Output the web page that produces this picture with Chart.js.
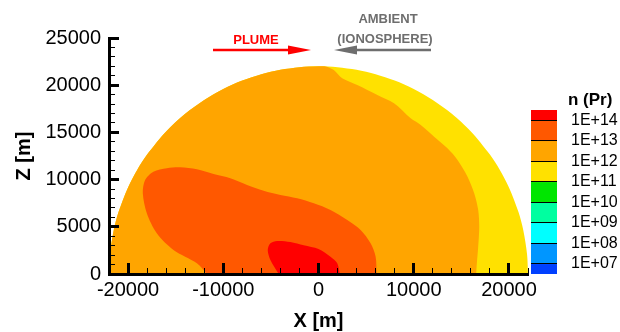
<!DOCTYPE html>
<html>
<head>
<meta charset="utf-8">
<script src="https://cdn.jsdelivr.net/npm/chart.js@4.4.1/dist/chart.umd.min.js"></script>
<style>
  html, body { margin: 0; padding: 0; background: #fff; }
  #wrap { position: relative; width: 620px; height: 332px; overflow: hidden;
          font-family: "Liberation Sans", Arial, Helvetica, sans-serif; }
  canvas { position: absolute; }
  #main { left: 0; top: 0; }
  #bar { left: 500px; top: 90px; }
  .note { position: absolute; font-weight: bold; font-size: 13px; line-height: 13px;
          white-space: nowrap; transform: translate(-50%, -50%); }
  #cbTitle { position: absolute; left: 568px; top: 90px; font-weight: bold;
             font-size: 17px; line-height: 20px; white-space: nowrap; color: #000; }
  svg { position: absolute; left: 0; top: 0; }
</style>
</head>
<body>
<div id="wrap">
  <canvas id="main" width="620" height="332"></canvas>
  <canvas id="bar" width="120" height="200"></canvas>
  <svg width="620" height="332">
    <line x1="213" y1="50" x2="292" y2="50" stroke="#ff0000" stroke-width="2.5"/>
    <polygon points="288,45.5 311,50 288,54.5" fill="#ff0000"/>
    <line x1="352" y1="50" x2="431" y2="50" stroke="#6e6e6e" stroke-width="2.5"/>
    <polygon points="334,50 357,45.5 357,54.5" fill="#6e6e6e"/>
  </svg>
  <div class="note" style="left:256px; top:39px; color:#ff0000;">PLUME</div>
  <div class="note" style="left:388px; top:18px; color:#6e6e6e;">AMBIENT</div>
  <div class="note" style="left:385px; top:38px; color:#6e6e6e;">(IONOSPHERE)</div>
  <div id="cbTitle">n (Pr)</div>
</div>
<script>
// ---- axis ticks (metres) ----
const xMajorTicks = [-20000, -10000, 0, 10000, 20000];
const xMinorTicks = [-22000, -18000, -16000, -14000, -12000, -8000, -6000, -4000, -2000,
                     2000, 4000, 6000, 8000, 12000, 14000, 16000, 18000, 22000];
const zMajorTicks = [0, 5000, 10000, 15000, 20000, 25000];
const zMinorTicks = [1000, 2000, 3000, 4000, 6000, 7000, 8000, 9000, 11000, 12000, 13000, 14000,
                     16000, 17000, 18000, 19000, 21000, 22000, 23000, 24000];

// ---- density bands, outlined as closed contours (x, z in metres) ----
// simulation domain: half disc, everything inside is at least 1E+11
const domainX = [-22000, -21900, -21500, -21000, -20000, -19000, -18000, -16000, -14000, -12000,
                 -10000, -8000, -6000, -4000, -2000, 0, 2000, 4000, 6000, 8000, 10000, 12000,
                 14000, 16000, 18000, 19000, 20000, 21000, 21500, 21900, 22000];
const domainZ = [0, 2100, 4660, 6560, 9170, 11090, 12650, 15100, 16970, 18440,
                 19600, 20490, 21170, 21630, 21910, 22000, 21910, 21630, 21170, 20490, 19600, 18440,
                 16970, 15100, 12650, 11090, 9170, 6560, 4660, 2100, 0];

// 1E+12 .. 1E+13
const band12X = [-22000, -21900, -21500, -21000, -20000, -19000, -18000, -16000, -14000, -12000,
                 -10000, -8000, -6000, -4000, -2000, 0, 740,
                 1610, 2490, 4070, 6180, 7930, 9680, 10740, 12140, 13540, 14600,
                 15650, 16350, 16770, 16880, 16770, 16630, 16560];
const band12Z = [0, 2100, 4660, 6560, 9170, 11090, 12650, 15100, 16970, 18440,
                 19600, 20490, 21170, 21630, 21910, 22000, 21990,
                 21610, 20730, 20020, 18960, 18080, 16490, 15780, 14550, 13310, 12080,
                 10310, 8550, 6780, 5010, 2890, 1130, 0];

// 1E+13 .. 1E+14
const band13X = [-11720, -12770, -15230, -16980, -18030, -18450, -18210, -17340, -15930, -14530,
                 -12770, -11020, -9260, -7500, -5760, -4000, -2240, -490, 1260, 3020,
                 4420, 5470, 6000, 6100];
const band13Z = [0, 1130, 2540, 4310, 6430, 8550, 9960, 10840, 11200, 11300,
                 11090, 10590, 10140, 9430, 8820, 8370, 8020, 7490, 6780, 5720,
                 4660, 3250, 1830, 0];

// above 1E+14
const band14X = [-4180, -5050, -5330, -5050, -4350, -2950, -1550, 0, 1260, 1970, 2240];
const band14Z = [0, 1480, 2540, 3250, 3500, 3390, 3050, 2650, 1830, 1130, 0];

// ---- colour bar levels ----
const levelValues = [14, 13, 12, 11, 10, 9, 8, 7];
const levelLabels = ['1E+14', '1E+13', '1E+12', '1E+11', '1E+10', '1E+09', '1E+08', '1E+07'];
const bandLow  = [14, 13, 12, 11, 10, 9, 8, 7, 6.5];
const bandHigh = [14.5, 14, 13, 12, 11, 10, 9, 8, 7];

const palette = ['#ff0000', '#ff5800', '#ffa500', '#ffe100', '#00e600',
                 '#00ffa0', '#00ffff', '#0096ff', '#0040ff'];

const FONT = '"Liberation Sans", Arial, Helvetica, sans-serif';
const pts = (xs, zs) => xs.map((x, i) => ({ x: x, y: zs[i] }));
const plain = v => String(v);

function contour(label, xs, zs, color) {
  return {
    label: label,
    data: pts(xs, zs),
    showLine: true,
    fill: 'shape',
    backgroundColor: color,
    borderColor: 'rgba(0,0,0,0)',
    borderWidth: 0,
    pointRadius: 0,
    tension: 0.3,
    xAxisID: 'x',
    yAxisID: 'y'
  };
}

new Chart(document.getElementById('main'), {
  type: 'scatter',
  data: {
    datasets: [
      contour('> 1E+14', band14X, band14Z, palette[0]),
      contour('1E+13 - 1E+14', band13X, band13Z, palette[1]),
      contour('1E+12 - 1E+13', band12X, band12Z, palette[2]),
      contour('1E+11 - 1E+12', domainX, domainZ, palette[3])
    ]
  },
  options: {
    responsive: false,
    animation: false,
    devicePixelRatio: 1,
    layout: { padding: { left: 0, right: 92, top: 38, bottom: 0 } },
    plugins: { legend: { display: false }, tooltip: { enabled: false } },
    scales: {
      x: {
        type: 'linear', position: 'bottom', min: -22000, max: 22000,
        afterFit: s => { s.height = 58; },
        afterBuildTicks: s => { s.ticks = xMajorTicks.map(v => ({ value: v })); },
        grid: { drawOnChartArea: false, tickLength: -11, tickWidth: 3, tickColor: '#000', z: 1 },
        border: { display: true, width: 3, color: '#000', z: 1 },
        ticks: { color: '#000', padding: 15, maxRotation: 0, autoSkip: false, callback: plain,
                 font: { family: FONT, size: 20, lineHeight: 1.2 } },
        title: { display: true, text: 'X [m]', color: '#000', padding: { top: 0, bottom: 1 },
                 font: { family: FONT, size: 20, weight: 'bold', lineHeight: 1 } }
      },
      y: {
        type: 'linear', position: 'left', min: 0, max: 25000,
        afterFit: s => { s.width = 109; },
        afterBuildTicks: s => { s.ticks = zMajorTicks.map(v => ({ value: v })); },
        grid: { drawOnChartArea: false, tickLength: -10, tickWidth: 3, tickColor: '#000', z: 1 },
        border: { display: true, width: 3, color: '#000', z: 1 },
        ticks: { color: '#000', padding: 18, autoSkip: false, callback: plain,
                 font: { family: FONT, size: 20, lineHeight: 1.2 } },
        title: { display: true, text: 'Z [m]', color: '#000', padding: { top: 14, bottom: 0 },
                 font: { family: FONT, size: 20, weight: 'bold', lineHeight: 1 } }
      },
      x2: {
        type: 'linear', axis: 'x', position: { y: 0 }, min: -22000, max: 22000,
        afterBuildTicks: s => { s.ticks = xMinorTicks.map(v => ({ value: v })); },
        grid: { drawOnChartArea: false, tickLength: -6, tickWidth: 1, tickColor: '#000', z: 1 },
        border: { display: false },
        ticks: { display: false }
      },
      y2: {
        type: 'linear', axis: 'y', position: { x: -22000 }, min: 0, max: 25000,
        afterBuildTicks: s => { s.ticks = zMinorTicks.map(v => ({ value: v })); },
        grid: { drawOnChartArea: false, tickLength: -6, tickWidth: 1, tickColor: '#000', z: 1 },
        border: { display: false },
        ticks: { display: false }
      }
    }
  }
});

// colour bar: one floating bar segment per density band
new Chart(document.getElementById('bar'), {
  type: 'bar',
  data: {
    labels: ['n'],
    datasets: bandLow.map((lo, i) => ({
      data: [[lo, bandHigh[i]]],
      backgroundColor: palette[i],
      borderWidth: 0,
      grouped: false,
      barPercentage: 1,
      categoryPercentage: 1
    }))
  },
  options: {
    responsive: false,
    animation: false,
    devicePixelRatio: 1,
    layout: { padding: { left: 31, right: 0, top: 20, bottom: 16 } },
    plugins: { legend: { display: false }, tooltip: { enabled: false } },
    scales: {
      x: { display: false },
      y: {
        position: 'right', min: 6.5, max: 14.5,
        afterFit: s => { s.width = 63; s.paddingTop = 0; s.paddingBottom = 0; },
        afterBuildTicks: s => { s.ticks = levelValues.map(v => ({ value: v })); },
        grid: { drawTicks: false, color: '#000', lineWidth: 1, z: 1 },
        border: { display: false },
        ticks: { color: '#000', padding: 14, autoSkip: false,
                 callback: (v, i) => levelLabels[i],
                 font: { family: FONT, size: 16, lineHeight: 1.2 } }
      }
    }
  }
});
</script>
</body>
</html>
